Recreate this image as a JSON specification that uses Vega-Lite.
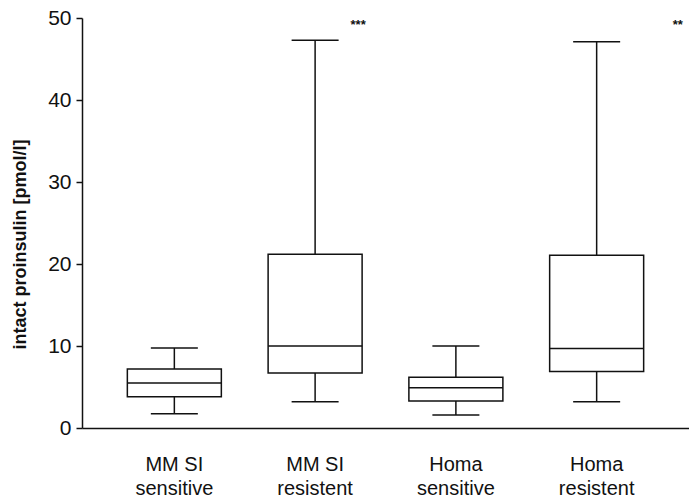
{
  "$schema": "https://vega.github.io/schema/vega-lite/v6.json",
  "width": 607,
  "height": 410,
  "autosize": {"type": "none"},
  "padding": {"left": 82, "top": 18, "right": 0, "bottom": 70},
  "background": "white",
  "config": {
    "view": {"stroke": null},
    "font": "Liberation Sans",
    "axis": {"grid": false, "domainColor": "#111", "tickColor": "#111", "labelColor": "#111", "titleColor": "#111", "domainWidth": 1.5, "tickWidth": 1.5}
  },
  "datasets": {
    "boxes": [
      {"group": "MM SI|sensitive", "lower": 1.75, "q1": 3.8, "median": 5.5, "q3": 7.2, "upper": 9.76},
      {"group": "MM SI|resistent", "lower": 3.2, "q1": 6.7, "median": 10.0, "q3": 21.2, "upper": 47.3},
      {"group": "Homa|sensitive", "lower": 1.6, "q1": 3.3, "median": 4.9, "q3": 6.2, "upper": 10.0},
      {"group": "Homa|resistent", "lower": 3.2, "q1": 6.9, "median": 9.7, "q3": 21.06, "upper": 47.1}
    ],
    "stars": [
      {"group": "MM SI|resistent", "y": 49.1, "label": "***"},
      {"group": "Homa|resistent", "y": 49.1, "label": "**"}
    ]
  },
  "data": {"name": "boxes"},
  "encoding": {
    "x": {
      "field": "group", "type": "nominal", "sort": null,
      "scale": {"paddingInner": 0, "paddingOuter": 0.156},
      "axis": {"title": null, "ticks": false, "labelAngle": 0, "labelFontSize": 20, "labelPadding": 26, "labelLineHeight": 24, "labelExpr": "split(datum.label, '|')", "domain": true}
    }
  },
  "layer": [
    {
      "mark": {"type": "rule", "color": "#111", "strokeWidth": 1.5},
      "encoding": {
        "y": {"field": "lower", "type": "quantitative", "scale": {"domain": [0, 50], "nice": false},
          "axis": {"values": [0, 10, 20, 30, 40, 50], "tickSize": 6, "labelPadding": 5, "labelFontSize": 21,
            "title": "intact proinsulin [pmol/l]", "titleFontSize": 18, "titleFontWeight": "bold", "titleX": -53, "titleY": 226}},
        "y2": {"field": "upper"}
      }
    },
    {
      "mark": {"type": "bar", "fill": "white", "stroke": "#111", "strokeWidth": 1.5, "width": 94},
      "encoding": {
        "y": {"field": "q1", "type": "quantitative"},
        "y2": {"field": "q3"}
      }
    },
    {
      "mark": {"type": "tick", "color": "#111", "opacity": 1, "thickness": 1.5, "size": 94},
      "encoding": {"y": {"field": "median", "type": "quantitative"}}
    },
    {
      "mark": {"type": "tick", "color": "#111", "opacity": 1, "thickness": 1.5, "size": 47},
      "encoding": {"y": {"field": "lower", "type": "quantitative"}}
    },
    {
      "mark": {"type": "tick", "color": "#111", "opacity": 1, "thickness": 1.5, "size": 47},
      "encoding": {"y": {"field": "upper", "type": "quantitative"}}
    },
    {
      "data": {"name": "stars"},
      "transform": [{"filter": "datum.label == '***'"}],
      "mark": {"type": "text", "fontSize": 13, "fontWeight": "bold", "color": "#111", "dx": 43, "baseline": "middle"},
      "encoding": {"y": {"field": "y", "type": "quantitative"}, "text": {"field": "label"}}
    },
    {
      "data": {"name": "stars"},
      "transform": [{"filter": "datum.label == '**'"}],
      "mark": {"type": "text", "fontSize": 13, "fontWeight": "bold", "color": "#111", "dx": 76, "align": "left", "baseline": "middle"},
      "encoding": {"y": {"field": "y", "type": "quantitative"}, "text": {"field": "label"}}
    }
  ]
}
